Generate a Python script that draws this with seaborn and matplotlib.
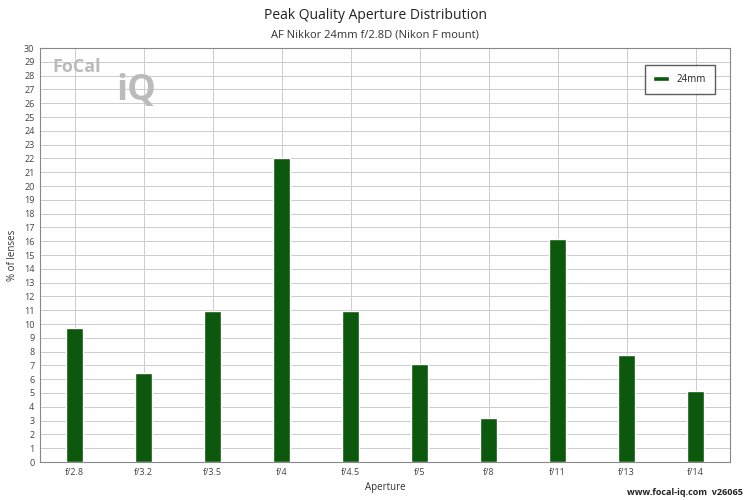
import matplotlib
matplotlib.use("Agg")
import matplotlib.pyplot as plt
import seaborn as sns
import pandas as pd

apertures = ["f/2.8","f/3.2","f/3.5","f/4","f/4.5","f/5","f/8","f/11","f/13","f/14"]
values = [9.7, 6.45, 10.95, 22.0, 10.95, 7.1, 3.2, 16.15, 7.75, 5.15]
series_name = "24mm"

sns.set_theme(style="white")
plt.rcParams['font.family'] = ['Open Sans', 'DejaVu Sans']
fig = plt.figure(figsize=(7.5, 5), dpi=100)
ax = fig.add_axes([40/750, 38/500, 690/750, 414/500])
df = pd.DataFrame({"Aperture": apertures, "pct": values, "s": series_name})
sns.barplot(data=df, x="Aperture", y="pct", hue="s", palette=["#006400"], width=0.25, ax=ax, zorder=3)
ax.set_ylim(0, 30)
ax.set_yticks(range(0, 31))
ax.tick_params(axis='both', labelsize=6.5, colors="#444444", length=0, pad=4)
ax.grid(True, color="#cccccc", linewidth=0.7, zorder=0)
ax.set_axisbelow(True)
for s in ax.spines.values():
    s.set_color("#888888"); s.set_linewidth(0.8)
ax.set_xlabel("Aperture", fontsize=7, color="#333333")
ax.set_ylabel("% of lenses", fontsize=7, color="#333333")
leg = ax.legend(loc="upper right", fontsize=7, frameon=True, fancybox=False,
                handlelength=1.6, handleheight=0.3, borderpad=0.9, bbox_to_anchor=(0.985, 0.97))
leg.get_frame().set_edgecolor("#333333")
fig.text(0.5, 0.962, "Peak Quality Aperture Distribution", ha="center", fontsize=10, color="#222222")
fig.text(0.5, 0.925, "AF Nikkor 24mm f/2.8D (Nikon F mount)", ha="center", fontsize=8, color="#333333")
fig.text(0.07, 0.855, "FoCal", fontsize=13, color="#bbbbbb", fontweight="bold")
fig.text(0.155, 0.80, "iQ", fontsize=26, color="#bbbbbb", fontweight="bold")
fig.text(0.99, 0.01, "www.focal-iq.com  v26065", ha="right", fontsize=6.5, color="#222222", fontweight="bold")
fig.savefig("out.png", dpi=100)
